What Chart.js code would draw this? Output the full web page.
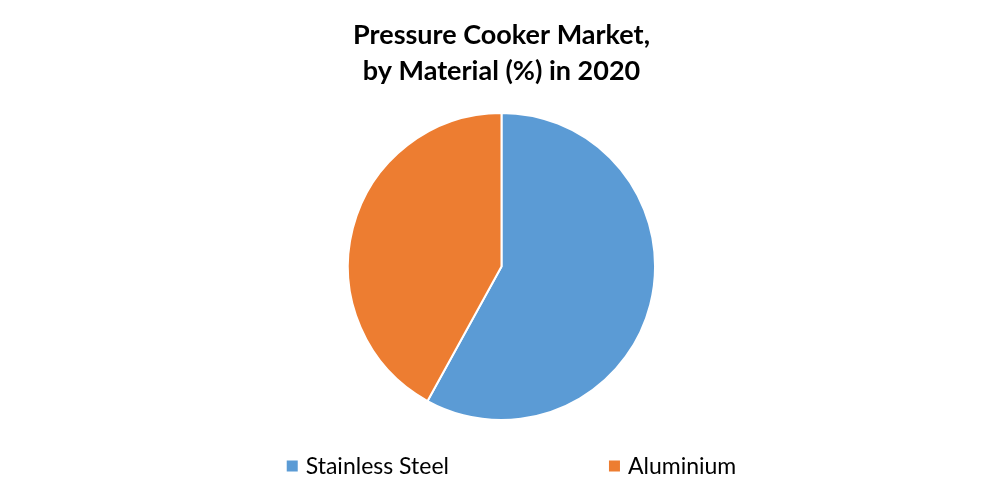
<!DOCTYPE html>
<html lang="en">
<head>
    <meta charset="UTF-8">
    <title>Pressure Cooker Market</title>
    <script src="https://cdn.jsdelivr.net/npm/chart.js@4/dist/chart.umd.min.js"></script>
    <style>
        html, body {
            margin: 0;
            padding: 0;
            background-color: #fff;
        }

        #chartBox {
            width: 1003px;
            height: 500px;
        }
    </style>
</head>
<body>
    <div id="chartBox">
        <canvas id="materialChart"></canvas>
    </div>

    <script>
        const titleLines = ['Pressure Cooker Market,', 'by Material (%) in 2020'];
        const materials = ['Stainless Steel', 'Aluminium'];
        const shares = [58, 42];
        const sliceColors = ['#5B9BD5', '#ED7D31'];

        // Bottom legend with a wide gap between the two items
        const wideLegend = {
            id: 'wideLegend',
            afterDraw(chart) {
                const c = chart.ctx;
                const y = 466;
                const box = 11;
                const gap = 160;
                c.save();
                c.font = '23px Lato';
                c.textBaseline = 'middle';
                const labels = chart.data.labels;
                const colors = chart.data.datasets[0].backgroundColor;
                const widths = labels.map(l => box + 8 + c.measureText(l).width);
                const total = widths.reduce((a, b) => a + b, 0) + gap * (labels.length - 1);
                let x = chart.width / 2 + 10 - total / 2;
                labels.forEach((label, i) => {
                    c.fillStyle = colors[i];
                    c.fillRect(x, y - box / 2, box, box);
                    c.fillStyle = '#000';
                    c.fillText(label, x + box + 8, y + 1);
                    x += widths[i] + gap;
                });
                c.restore();
            }
        };

        const ctx = document.getElementById('materialChart').getContext('2d');

        const materialChart = new Chart(ctx, {
            type: 'pie',
            data: {
                labels: materials,
                datasets: [{
                    data: shares,
                    backgroundColor: sliceColors,
                    borderColor: '#fff',
                    borderWidth: 2
                }]
            },
            options: {
                responsive: true,
                maintainAspectRatio: false,
                animation: false,
                layout: {
                    padding: { top: 17, bottom: 79 }
                },
                plugins: {
                    title: {
                        display: true,
                        text: titleLines,
                        color: '#000',
                        font: { family: 'Lato', size: 27, weight: 'bold', lineHeight: 1.35 },
                        padding: { top: 0, bottom: 22 }
                    },
                    legend: { display: false },
                    tooltip: { enabled: false }
                }
            },
            plugins: [wideLegend]
        });
    </script>
</body>
</html>
